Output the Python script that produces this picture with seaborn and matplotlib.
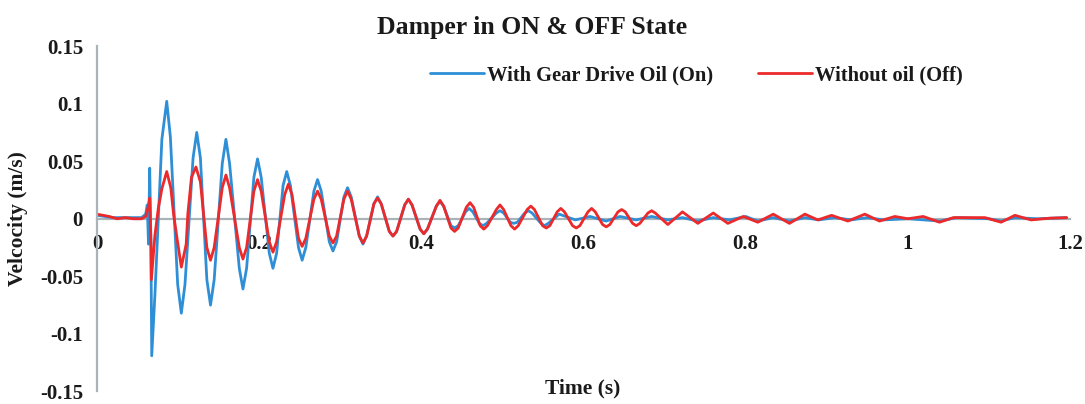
import matplotlib
matplotlib.use("Agg")
import matplotlib.pyplot as plt
import seaborn as sns
import pandas as pd
from matplotlib.ticker import FuncFormatter, MultipleLocator

# ---- data (points along the traces) ----
time_on = [
    0.0, 0.02, 0.04, 0.055, 0.060, 0.062, 0.0635, 0.065, 0.0665, 0.0675, 0.0715, 0.0756, 0.080,
    0.086, 0.0905, 0.0995, 0.104, 0.1085,
    0.1185, 0.123, 0.1275, 0.1355, 0.140, 0.1445,
    0.1545, 0.159, 0.1635, 0.1755, 0.180, 0.1845,
    0.1935, 0.198, 0.2025, 0.2125, 0.217, 0.2215,
    0.2295, 0.234, 0.2385, 0.2485, 0.253, 0.2575,
    0.2675, 0.272, 0.2765, 0.2865, 0.291, 0.2955,
    0.3045, 0.309, 0.3135, 0.3235, 0.328, 0.3325,
    0.3415, 0.346, 0.3505, 0.3605, 0.365, 0.3695,
    0.3795, 0.384, 0.3885, 0.3985, 0.403, 0.4075,
    0.4185, 0.423, 0.4275, 0.4365, 0.441, 0.4455,
    0.4545, 0.459, 0.4635, 0.4715, 0.476, 0.4805,
    0.4925, 0.497, 0.5015, 0.5095, 0.514, 0.5185,
    0.5275, 0.532, 0.5365, 0.5475, 0.552, 0.5565,
    0.570, 0.590, 0.608, 0.628, 0.645, 0.665, 0.684, 0.704, 0.722, 0.741,
    0.760, 0.780, 0.800, 0.815, 0.834, 0.854, 0.873, 0.890, 0.910, 0.930,
    0.950, 0.970, 1.000, 1.040, 1.060, 1.100, 1.115, 1.132, 1.160, 1.195]
vel_on = [
    0.003, 0.001, 0.001, 0.001, 0.004, 0.012, -0.022, 0.044, -0.020, -0.119, -0.065, 0.000, 0.069,
    0.102, 0.071, -0.057, -0.082, -0.057,
    0.053, 0.075, 0.053, -0.053, -0.075, -0.053,
    0.048, 0.069, 0.048, -0.043, -0.061, -0.043,
    0.036, 0.052, 0.036, -0.030, -0.043, -0.030,
    0.029, 0.041, 0.029, -0.025, -0.036, -0.025,
    0.024, 0.034, 0.024, -0.020, -0.028, -0.020,
    0.019, 0.027, 0.019, -0.015, -0.022, -0.015,
    0.013, 0.019, 0.013, -0.011, -0.015, -0.011,
    0.012, 0.017, 0.012, -0.009, -0.013, -0.009,
    0.011, 0.015, 0.011, -0.006, -0.008, -0.006,
    0.006, 0.009, 0.006, -0.004, -0.006, -0.004,
    0.005, 0.007, 0.005, -0.003, -0.004, -0.003,
    0.005, 0.007, 0.005, -0.004, -0.006, -0.004,
    0.004, -0.001, 0.002, -0.002, 0.002, -0.001, 0.002, -0.001, 0.001, -0.002,
    0.001, -0.001, 0.002, -0.002, 0.001, -0.002, 0.001, -0.001, 0.001, -0.001,
    0.001, -0.001, 0.000, -0.002, 0.001, 0.000, -0.002, 0.001, 0.000, 0.001]

time_off = [
    0.0, 0.015, 0.025, 0.035, 0.045, 0.055, 0.060, 0.063, 0.065, 0.0665, 0.067, 0.0715, 0.0756, 0.080,
    0.086, 0.091, 0.0946, 0.0987, 0.104, 0.110, 0.112, 0.1165,
    0.122, 0.1275, 0.1355, 0.140, 0.1445,
    0.1545, 0.159, 0.1635, 0.1755, 0.180, 0.1845,
    0.1935, 0.198, 0.2025, 0.2125, 0.217, 0.2215,
    0.2315, 0.236, 0.2405, 0.2485, 0.253, 0.2575,
    0.2675, 0.272, 0.2765, 0.2865, 0.291, 0.2955,
    0.3045, 0.309, 0.3135, 0.3235, 0.328, 0.3325,
    0.3415, 0.346, 0.3505, 0.3605, 0.365, 0.3695,
    0.3795, 0.384, 0.3885, 0.3985, 0.403, 0.4075,
    0.4185, 0.423, 0.4275, 0.4365, 0.441, 0.4455,
    0.4555, 0.460, 0.4645, 0.4725, 0.477, 0.4815,
    0.4925, 0.497, 0.5015, 0.5105, 0.515, 0.5195,
    0.5305, 0.535, 0.5395, 0.5495, 0.554, 0.5585,
    0.5675, 0.572, 0.5765, 0.5865, 0.591, 0.5955,
    0.6055, 0.610, 0.6145, 0.6235, 0.628, 0.6325,
    0.6425, 0.647, 0.6515, 0.6605, 0.665, 0.6695,
    0.6795, 0.684, 0.6885,
    0.704, 0.722, 0.741, 0.760, 0.778, 0.797, 0.815, 0.834, 0.854, 0.873,
    0.889, 0.906, 0.926, 0.947, 0.965, 0.984, 1.000, 1.019, 1.039, 1.056,
    1.080, 1.095, 1.115, 1.132, 1.152, 1.175, 1.196]
vel_off = [
    0.004, 0.002, 0.000, 0.001, 0.000, 0.000, 0.002, 0.010, 0.018, -0.020, -0.053, -0.014, 0.009, 0.026,
    0.041, 0.027, 0.003, -0.017, -0.042, -0.022, 0.004, 0.036,
    0.045, 0.032, -0.025, -0.036, -0.025,
    0.027, 0.038, 0.027, -0.025, -0.035, -0.025,
    0.024, 0.034, 0.024, -0.020, -0.029, -0.020,
    0.021, 0.030, 0.021, -0.017, -0.024, -0.017,
    0.017, 0.024, 0.017, -0.015, -0.021, -0.015,
    0.017, 0.024, 0.017, -0.015, -0.021, -0.015,
    0.013, 0.018, 0.013, -0.011, -0.015, -0.011,
    0.012, 0.017, 0.012, -0.009, -0.013, -0.009,
    0.011, 0.016, 0.011, -0.008, -0.011, -0.008,
    0.010, 0.014, 0.010, -0.006, -0.009, -0.006,
    0.008, 0.012, 0.008, -0.006, -0.009, -0.006,
    0.008, 0.011, 0.008, -0.006, -0.008, -0.006,
    0.006, 0.009, 0.006, -0.006, -0.008, -0.006,
    0.006, 0.009, 0.006, -0.005, -0.007, -0.005,
    0.006, 0.008, 0.006, -0.004, -0.006, -0.004,
    0.005, 0.007, 0.005,
    -0.005, 0.006, -0.004, 0.005, -0.004, 0.002, -0.003, 0.004, -0.004, 0.004,
    -0.001, 0.003, -0.002, 0.004, -0.002, 0.002, 0.000, 0.002, -0.003, 0.001,
    0.001, 0.001, -0.003, 0.003, -0.001, 0.0005, 0.001]

series_labels = ["With Gear Drive Oil (On)", "Without oil (Off)"]
x_ticks = [0, 0.2, 0.4, 0.6, 0.8, 1.0, 1.2]
title_text = "Damper in ON & OFF State"
x_label = "Time (s)"
y_label = "Velcocity (m/s)"

# ---- styling ----
sns.set_theme(style="white")
plt.rcParams["font.family"] = ["Liberation Serif", "DejaVu Serif"]
plt.rcParams["font.weight"] = "bold"
plt.rcParams["axes.unicode_minus"] = False

blue = "#2f8fd6"
red = "#ec2a2b"
gray = "#a9b3b8"
txt = "#1a1a1a"

fig = plt.figure(figsize=(10.85, 4.04), dpi=100)
ax = fig.add_axes([0.0894, 0.031, 0.8968, 0.855])

df_on = pd.DataFrame({"t": time_on, "v": vel_on})
df_off = pd.DataFrame({"t": time_off, "v": vel_off})
sns.lineplot(data=df_on, x="t", y="v", ax=ax, color=blue, lw=2.0,
             estimator=None, sort=False, label=series_labels[0])
sns.lineplot(data=df_off, x="t", y="v", ax=ax, color=red, lw=2.0,
             estimator=None, sort=False, label=series_labels[1])
for ln in ax.get_lines():
    ln.set_solid_joinstyle("round")

ax.set_xlim(0, 1.2)
ax.set_ylim(-0.15, 0.15)
ax.set_xticks(x_ticks)
ax.yaxis.set_major_locator(MultipleLocator(0.05))
fmt = FuncFormatter(lambda v, p: "0" if abs(v) < 1e-9 else f"{v:g}")
ax.xaxis.set_major_formatter(fmt)
ax.yaxis.set_major_formatter(fmt)

for s in ["top", "right"]:
    ax.spines[s].set_visible(False)
ax.spines["bottom"].set_position(("data", 0))
ax.spines["bottom"].set_color(gray)
ax.spines["left"].set_color(gray)
ax.spines["bottom"].set_linewidth(1.6)
ax.spines["left"].set_linewidth(1.6)
ax.spines["bottom"].set_zorder(0.5)

ax.tick_params(axis="x", length=0, pad=11, labelsize=15, labelcolor=txt)
ax.tick_params(axis="y", length=0, pad=10, labelsize=15, labelcolor=txt)
for lab in ax.get_xticklabels() + ax.get_yticklabels():
    lab.set_fontweight("bold")

ax.set_xlabel(x_label, fontsize=15.5, fontweight="bold", color=txt)
ax.xaxis.set_label_coords(0.4995, -0.020)
ax.xaxis.label.set_va("bottom")
ax.set_ylabel(y_label, fontsize=15.5, fontweight="bold", color=txt)
ax.yaxis.set_label_coords(-0.071, 0.5)

fig.text(0.4905, 0.932, title_text, ha="center", va="center",
         fontsize=18.5, fontweight="bold", color=txt)

leg = ax.legend(loc="center", bbox_to_anchor=(0.642, 0.814), bbox_transform=fig.transFigure,
                ncol=2, frameon=False, handlelength=2.6, columnspacing=2.2,
                handletextpad=0.15, prop={"family": "Liberation Serif", "weight": "bold", "size": 14.8})
for t in leg.get_texts():
    t.set_color(txt)

fig.savefig("out.png", dpi=100)
